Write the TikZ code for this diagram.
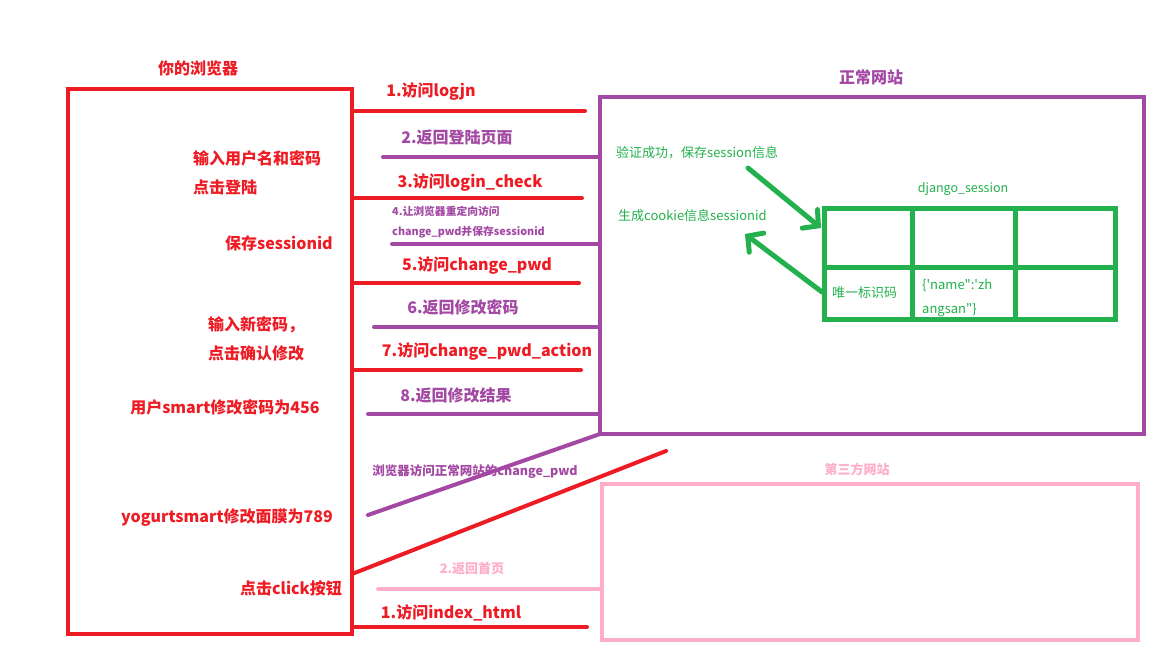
\documentclass[tikz,border=0pt]{standalone}
\usepackage{fontspec}
\setmainfont{Noto Sans CJK SC}
\newfontfamily\rawfont{Noto Sans CJK SC}
\usetikzlibrary{arrows.meta}
\definecolor{pRed}{HTML}{ED1C24}
\definecolor{pPurple}{HTML}{A349A4}
\definecolor{pGreen}{HTML}{22B14C}
\definecolor{pPink}{HTML}{FFAEC9}
\begin{document}
\begin{tikzpicture}[x=1pt,y=-1pt,
  frame/.style={draw, line width=4.7pt, inner sep=0pt, outer sep=0pt},
  wire/.style={line width=4pt, line cap=round},
  big/.style={font=\bfseries\fontsize{16}{16}\selectfont, inner sep=0pt},
  small/.style={font=\bfseries\fontsize{12.5}{12.5}\selectfont, inner sep=0pt},
  tiny/.style={font=\bfseries\fontsize{10.8}{10.8}\selectfont, inner sep=0pt},
  note/.style={font=\fontsize{13}{13}\selectfont, text=pGreen, inner sep=0pt},
  gridline/.style={draw=pGreen, line width=5pt},
  garrow/.style={draw=pGreen, line width=5pt, line cap=round,
    -{Straight Barb[length=11pt,width=24pt,line cap=round]}},
]
\useasboundingbox (0,0) rectangle (1152,648);
\fill[white] (0,0) rectangle (1152,648);

% ---- the three boxes
\node[frame, draw=pRed, minimum width=284pt, minimum height=545pt] (browser) at (210,361.5) {};
\node[frame, draw=pPurple, minimum width=544pt, minimum height=337pt] (site) at (872,265.5) {};
\node[frame, draw=pPink, minimum width=536pt, minimum height=156pt] (third) at (870,562) {};

\node[big, text=pRed] (tBrowser) at (198,68) {你的浏览器};
\node[big, text=pPurple] (tSite) at (871,77) {正常网站};
\node[small, font=\bfseries\fontsize{13}{13}\selectfont, text=pPink] (tThird) at (857,469) {第三方网站};

% ---- texts inside the browser
\node[big, text=pRed, anchor=west] (b1) at (193,158) {输入用户名和密码};
\node[big, text=pRed, anchor=west] (b2) at (193,187) {点击登陆};
\node[big, text=pRed] (b3) at (279,243) {保存sessionid};
\node[big, text=pRed, anchor=west] (b4) at (208,325) {输入新密码，};
\node[big, text=pRed, anchor=west] (b5) at (208,353) {点击确认修改};
\node[big, text=pRed] (b6) at (225,407) {用户smart修改密码为456};
\node[big, text=pRed] (b7) at (227,518) {yogurtsmart修改面膜为789};
\node[big, text=pRed] (b8) at (291,588) {点击click按钮};

% ---- request / response lines
\coordinate (e1) at (585,111);
\coordinate (e2) at (383,157);
\coordinate (e3) at (582,198);
\coordinate (e4) at (392,244);
\coordinate (e5) at (579,283);
\coordinate (e6) at (374,327);
\coordinate (e7) at (581,370);
\coordinate (e8) at (368,414);
\draw[wire, pRed] (browser.east |- e1) -- (e1);
\draw[wire, pPurple] (site.west |- e2) -- (e2);
\draw[wire, pRed] (browser.east |- e3) -- (e3);
\draw[wire, pPurple] (site.west |- e4) -- (e4);
\draw[wire, pRed] (browser.east |- e5) -- (e5);
\draw[wire, pPurple] (site.west |- e6) -- (e6);
\draw[wire, pRed] (browser.east |- e7) -- (e7);
\draw[wire, pPurple] (site.west |- e8) -- (e8);

\node[big, text=pRed] (l1) at (431,91) {1.访问logjn};
\node[big, text=pPurple] (l2) at (457,138) {2.返回登陆页面};
\node[big, text=pRed] (l3) at (470,182) {3.访问login\_check};
\node[tiny, text=pPurple, anchor=west] (l4a) at (392,211) {4.让浏览器重定向访问};
\node[tiny, text=pPurple, anchor=west] (l4b) at (392,232) {change\_pwd并保存sessionid};
\node[big, text=pRed] (l5) at (477,265) {5.访问change\_pwd};
\node[big, text=pPurple] (l6) at (463,307) {6.返回修改密码};
\node[big, text=pRed] (l7) at (487,351) {7.访问change\_pwd\_action};
\node[big, text=pPurple] (l8) at (456,395) {8.返回修改结果};

% ---- forged request lines
\coordinate (d1) at (368,515);
\draw[wire, pPurple] (d1) -- (site.south west);
\node[small, text=pPurple] (ld1) at (475,472) {浏览器访问正常网站的change\_pwd};
\coordinate (d2s) at (352,574);
\coordinate (d2) at (666,451);
\draw[wire, pRed] (browser.east |- d2s) -- (d2);

\coordinate (p2) at (378,589);
\draw[wire, pPink] (third.west |- p2) -- (p2);
\node[small, text=pPink, font=\bfseries\fontsize{13}{13}\selectfont] (lp2) at (472,569) {2.返回首页};
\coordinate (p1) at (587,627);
\draw[wire, pRed] (browser.east |- p1) -- (p1);
\node[big, text=pRed] (lp1) at (451,613) {1.访问index\_html};

% ---- session storage on the server
\node[note, anchor=west] (n1) at (616,153) {验证成功，保存session信息};
\node[note, anchor=west] (n2) at (618,216) {生成cookie信息sessionid};
\node[note, font=\fontsize{12.5}{12.5}\selectfont] (tTable) at (963,189) {django\_session};

\node[draw=pGreen, line width=5pt, inner sep=0pt, minimum width=291pt, minimum height=111pt] (tbl) at (969.5,263.5) {};
\draw[gridline] (tbl.west |- 0,267) -- (1118,267);
\draw[gridline] (912,208) -- (912,319);
\draw[gridline] (1015,208) -- (1015,319);

\node[note] (c1) at (864.5,293) {唯一标识码};
\node[note, anchor=west] (c2a) at (922,285) {\rawfont \{'name":'zh};
\node[note, anchor=west] (c2b) at (922,310) {\rawfont angsan"\}};

\coordinate (g1) at (748,168);
\coordinate (g1e) at (821,228);
\draw[garrow] (g1) -- (g1e);
\coordinate (g2) at (822,292);
\coordinate (g2e) at (745,234);
\draw[garrow] (g2) -- (g2e);
\end{tikzpicture}
\end{document}
